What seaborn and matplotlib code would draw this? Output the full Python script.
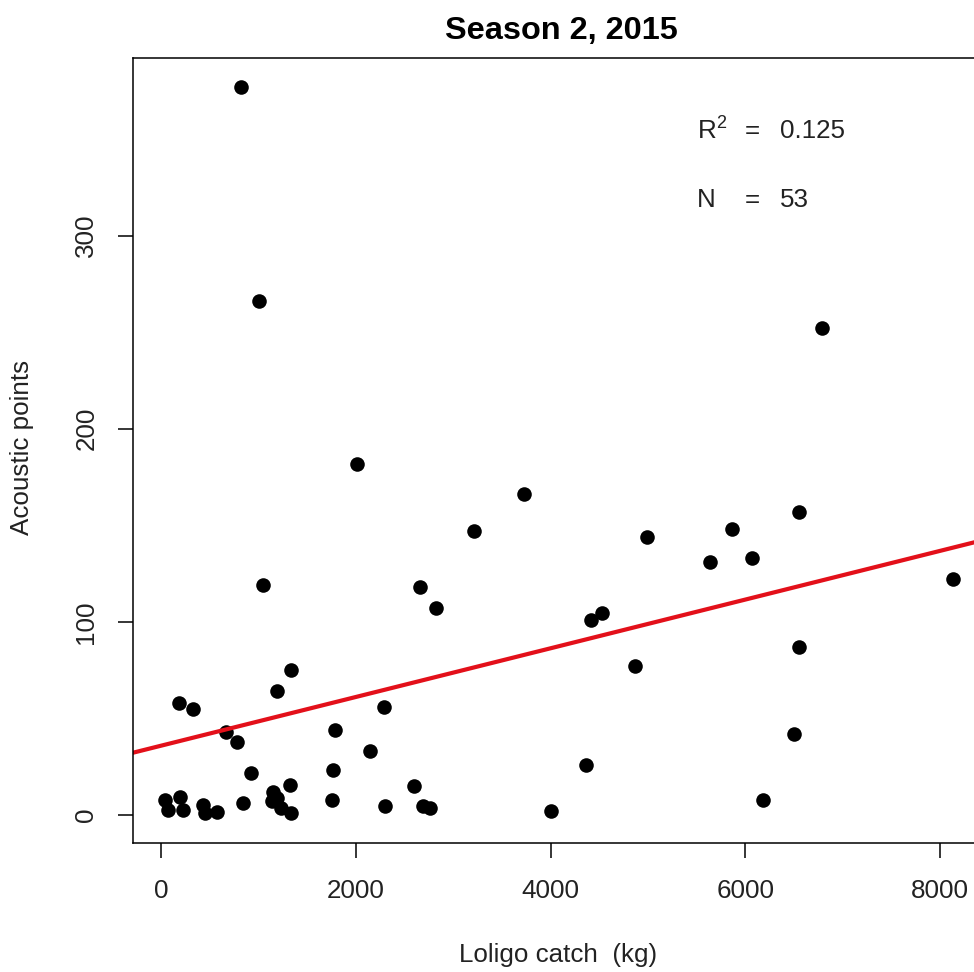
import numpy as np
import pandas as pd
import matplotlib
matplotlib.use("Agg")
import matplotlib.pyplot as plt
import seaborn as sns

# Loligo catch (kg) vs acoustic points, season 2 2015
catch_kg = [822, 1006, 6790, 2010, 3728, 6552, 5867, 3214, 4988, 6070,
            5638, 8130, 1044, 2660, 2821, 4530, 4420, 6552, 4868, 1335,
            1188, 185, 2290, 325, 1787, 668, 6501, 784, 2146, 4365,
            1770, 928, 2595, 1325, 1150, 1753, 6186, 41, 195, 845,
            1140, 435, 2300, 2694, 2760, 76, 229, 1230, 572, 4002,
            452, 1330, 1190]
acoustic_points = [377, 266, 252, 182, 166, 157, 148, 147, 144, 133,
                   131, 122, 119, 118, 107, 104.5, 101, 87, 77, 75,
                   64, 58, 56, 55, 44, 43, 42, 38, 33, 26,
                   23.5, 22, 15, 15.5, 12, 8, 8, 8, 9.5, 6.4,
                   7.5, 5, 4.7, 4.5, 3.5, 2.6, 2.6, 3.5, 1.7, 2,
                   1, 1, 9]

r2_text = "0.125"
n_text = "53"
x_ticks = [0, 2000, 4000, 6000, 8000]
y_ticks = [0, 100, 200, 300]


def main():
    sns.set_style("white")
    plt.rcParams['font.family'] = ['Liberation Sans', 'DejaVu Sans']
    plt.rcParams['mathtext.fontset'] = 'custom'
    plt.rcParams['mathtext.rm'] = 'Liberation Sans'
    plt.rcParams['mathtext.it'] = 'Liberation Sans'

    df = pd.DataFrame({"catch": catch_kg, "points": acoustic_points})
    font_size = 18.7
    txt_col = '#222222'

    fig = plt.figure(figsize=(9.74, 9.72), dpi=100)
    ax = fig.add_axes([0.1366, 0.1327, 0.8799, 0.8076])
    ax.set_xlim(-288, 8514)
    ax.set_ylim(-14.5, 392)

    sns.regplot(x="catch", y="points", data=df, ax=ax, ci=None, truncate=False,
                scatter_kws={"s": 110, "color": "black", "linewidths": 0, "alpha": 1},
                line_kws={"color": "#e3101a", "linewidth": 3})
    ax.set_xlim(-288, 8514)
    ax.set_ylim(-14.5, 392)

    ax.set_xticks(x_ticks)
    ax.set_yticks(y_ticks)
    ax.tick_params(axis='both', direction='out', length=11, width=1.1,
                   bottom=True, left=True, color='black',
                   labelsize=font_size, labelcolor=txt_col)
    ax.tick_params(axis='x', pad=15)
    ax.tick_params(axis='y', pad=14)
    for lab in ax.get_yticklabels():
        lab.set_rotation(90)
        lab.set_va('center')

    for sp in ax.spines.values():
        sp.set_color('black')
        sp.set_linewidth(1.1)

    ax.set_xlabel("Loligo catch  (kg)", fontsize=font_size, color=txt_col)
    ax.xaxis.label.set_va('center')
    ax.xaxis.set_label_coords(0.496, -0.1427)
    ax.set_ylabel("Acoustic points", fontsize=font_size, color=txt_col)
    ax.yaxis.label.set_va('center')
    ax.yaxis.set_label_coords(-0.1295, 0.5045)

    ax.set_title("Season 2, 2015", fontsize=23.4, fontweight='bold', pad=14, color='black')

    ax.text(5504, 354, r"R$^{\mathrm{2}}$", fontsize=font_size, ha='left', va='center', color=txt_col)
    ax.text(6069, 354, "=", fontsize=font_size, ha='center', va='center', color=txt_col)
    ax.text(6357, 354, r2_text, fontsize=font_size, ha='left', va='center', color=txt_col)
    ax.text(5504, 318.5, "N", fontsize=font_size, ha='left', va='center', color=txt_col)
    ax.text(6069, 318.5, "=", fontsize=font_size, ha='center', va='center', color=txt_col)
    ax.text(6357, 318.5, n_text, fontsize=font_size, ha='left', va='center', color=txt_col)

    fig.savefig("out.png", dpi=100)


if __name__ == "__main__":
    main()
